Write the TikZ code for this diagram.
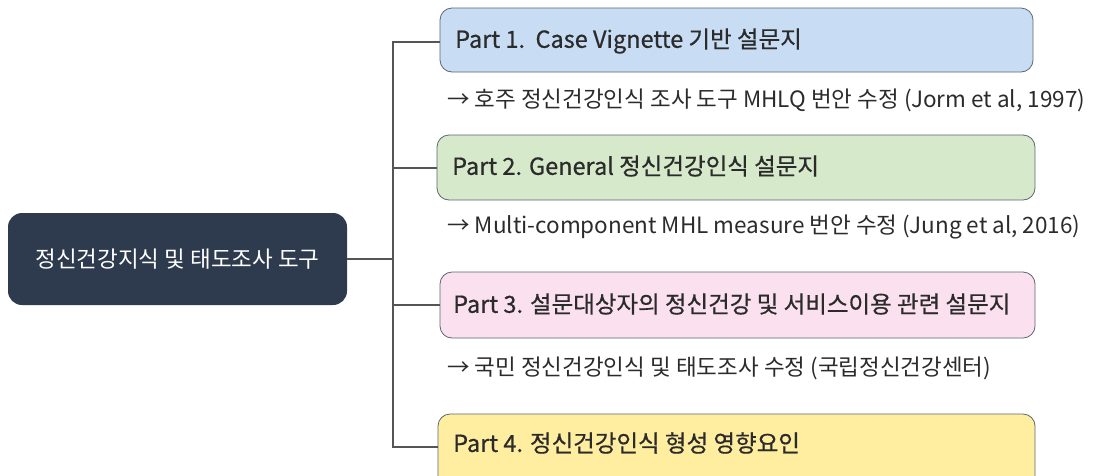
\documentclass[tikz,border=0pt]{standalone}
\usepackage{fontspec}
\setmainfont{Noto Sans CJK KR}
\newfontfamily\titlefont[FakeBold=0.6]{Noto Sans CJK KR}
\definecolor{navy}{HTML}{2E3A4E}
\definecolor{blueF}{HTML}{C8DDF4}
\definecolor{greenF}{HTML}{D6E9CB}
\definecolor{pinkF}{HTML}{FBE1EF}
\definecolor{yellowF}{HTML}{FFEEA0}
\definecolor{edgeC}{HTML}{5C6670}
\definecolor{lineC}{HTML}{555555}
\definecolor{txt}{HTML}{2B2B2B}
\begin{document}
\begin{tikzpicture}[x=1pt,y=-1pt,
  partbox/.style={draw=edgeC, line width=0.8pt, rounded corners=12pt},
  parttext/.style={anchor=west, inner sep=0pt, font=\titlefont\fontsize{23.5}{26}\selectfont, text=txt},
  subtext/.style={anchor=west, inner sep=0pt, font=\fontsize{22.5}{26}\selectfont, text=txt},
  conn/.style={draw=lineC, line width=1.1pt}]
\useasboundingbox (0,0) rectangle (1095,475);
% main node
\node[fill=navy, rounded corners=14pt, minimum width=339pt, minimum height=92pt, inner sep=0pt,
  text=white, font=\fontsize{22.5}{26}\selectfont] (main) at (177.5,259) {정신건강지식 및 태도조사 도구};
% part boxes
\node[partbox, fill=blueF, minimum width=593pt, minimum height=64pt, inner sep=0pt] (p1) at (736.5,40) {};
\node[partbox, fill=greenF, minimum width=598pt, minimum height=65pt, inner sep=0pt] (p2) at (736,167.5) {};
\node[partbox, fill=pinkF, minimum width=595pt, minimum height=66pt, inner sep=0pt] (p3) at (737.5,305) {};
\begin{scope}
\clip (0,0) rectangle (1095,475);
\node[partbox, fill=yellowF, minimum width=597pt, minimum height=90pt, inner sep=0pt] (p4) at (736.5,459) {};
\end{scope}
\node[parttext] (t1) at (455,41) {Part 1.\ \ Case Vignette 기반 설문지};
\node[parttext] (t2) at (452,166) {Part 2. General 정신건강인식 설문지};
\node[parttext] (t3) at (453,304) {Part 3. 설문대상자의 정신건강 및 서비스이용 관련 설문지};
\node[parttext] (t4) at (453,443) {Part 4. 정신건강인식 형성 영향요인};
% sub texts
\node[subtext] (s1) at (447,100) {→ 호주 정신건강인식 조사 도구 MHLQ 번안 수정 (Jorm et al, 1997)};
\node[subtext] (s2) at (447,227) {→ Multi-component MHL measure 번안 수정 (Jung et al, 2016)};
\node[subtext] (s3) at (447,368) {→ 국민 정신건강인식 및 태도조사 수정 (국립정신건강센터)};
% connectors
\coordinate (bx) at (393,259);
\draw[conn] (main.east) -- (bx);
\draw[conn] (p1.west |- 0,42) -| (bx) |- (p4.west |- 0,447);
\draw[conn] (bx |- 0,168) -- (p2.west |- 0,168);
\draw[conn] (bx |- 0,305) -- (p3.west);
\end{tikzpicture}
\end{document}
